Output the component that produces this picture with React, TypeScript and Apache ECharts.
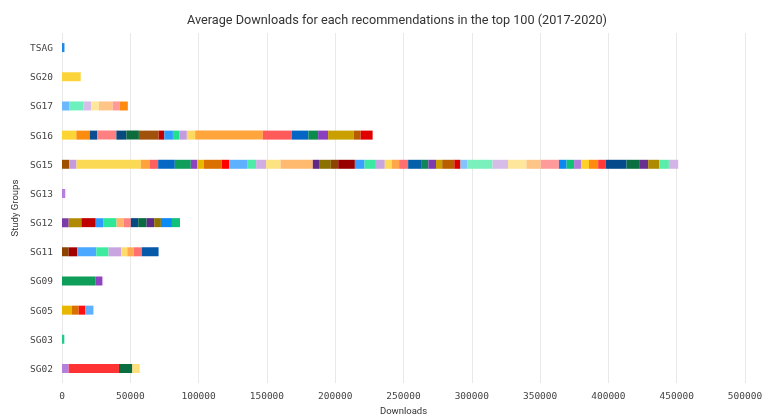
import React, { useEffect, useRef } from "react";
import * as echarts from "echarts";

const categories = ["SG02", "SG03", "SG05", "SG09", "SG11", "SG12", "SG13", "SG15", "SG16", "SG17", "SG20", "TSAG"];
const xTicks = { min: 0, max: 500000, interval: 50000 };

const sg02 = [4900, 36800, 9800, 5400];
const sg03 = [1700];
const sg05 = [7300, 4900, 4900, 5900];
const sg09 = [24400, 4900, 800];
const sg11 = [4900, 6300, 13900, 9000, 9300, 4400, 4600, 6100, 12200];
const sg12 = [4900, 9300, 10500, 5400, 9800, 5400, 5100, 5400, 6100, 5600, 4900, 8100, 5900];
const sg13 = [2400];
const sg15 = [
  5300, 5300, 47100, 6400, 6300, 12200, 11700, 4800, 4800, 13000,
  5600, 13000, 6600, 7300, 10600, 23600, 4600, 8600, 5400, 12200,
  7100, 8300, 6500, 5000, 5500, 6600, 10000, 4800, 5600, 4500,
  8900, 4500, 5300, 18200, 11300, 13500, 10500, 13300, 5600, 5500,
  5300, 5600, 6700, 5600, 15200, 9200, 6600, 8100, 7100, 6800,
];
const sg16 = [10500, 9800, 5600, 13900, 7300, 9200, 14400, 4200, 6300, 4900, 5300, 6100, 49500, 21200, 12200, 7100, 7300, 18700, 5100, 8800];
const sg17 = [5600, 10200, 5600, 5600, 10200, 4900, 6100];
const sg20 = [13700];
const tsag = [1800];

const sg02Colors = ["#b57fdc", "#ff3333", "#0a6e40", "#fde07a"];
const sg03Colors = ["#22c98a"];
const sg05Colors = ["#e8b800", "#d97000", "#ff1010", "#5fb0ff"];
const sg09Colors = ["#0e9e5a", "#8e44c0", "#d4b4e6"];
const sg11Colors = ["#8c4400", "#a00000", "#4aa8ff", "#3deb9f", "#c9a5e0", "#fddc6b", "#ffaa50", "#ff7070", "#0559a8"];
const sg12Colors = ["#7b3ba8", "#b08a00", "#c00000", "#2e9bff", "#2ee89a", "#ffb36b", "#ff8080", "#064a85", "#0a6b40", "#5e2a85", "#8f7300", "#0a8af5", "#11c07a"];
const sg13Colors = ["#b57fdc"];
const sg15Colors = [
  "#9e5200", "#c49bdf", "#fcd955", "#ffa23c", "#ff5e5e", "#0568c4", "#0e9e5a", "#8e44c0", "#e8b800", "#d97000",
  "#ff0000", "#5fb0ff", "#4deba7", "#ceaee3", "#fde282", "#ffba70", "#5e2a85", "#8c7000", "#8c4400", "#990000",
  "#3aa0ff", "#3de8a0", "#c9a5e0", "#fcda5a", "#ffa54a", "#ff7070", "#0560aa", "#11845a", "#7d3bb0", "#c9a000",
  "#b86000", "#d80000", "#85c3ff", "#7af0bd", "#d6bde8", "#fee69a", "#ffc586", "#ff9a9a", "#0a88f0", "#10c075",
  "#b07ed8", "#fdd12a", "#ff8a10", "#ff3838", "#054a8a", "#0a6e40", "#6a3090", "#ad8a00", "#5aedaa", "#d4b4e6",
];
const sg16Colors = ["#fcd433", "#fb8c10", "#0d4e91", "#ff8080", "#084a7e", "#0e6b3c", "#a0520a", "#c00000", "#2e9bff", "#22e08e", "#c39be0", "#fdd863", "#ffa53b", "#ff5a5a", "#0565c4", "#0c8c4a", "#8a3fbf", "#c9a000", "#b85c00", "#e00000"];
const sg17Colors = ["#6bb8ff", "#6df0be", "#d6bde8", "#fee69a", "#ffc586", "#ff9a9a", "#ff8a10"];
const sg20Colors = ["#fbd33a"];
const tsagColors = ["#1e88e5"];

const segValues = [sg02, sg03, sg05, sg09, sg11, sg12, sg13, sg15, sg16, sg17, sg20, tsag];
const segColors = [sg02Colors, sg03Colors, sg05Colors, sg09Colors, sg11Colors, sg12Colors, sg13Colors, sg15Colors, sg16Colors, sg17Colors, sg20Colors, tsagColors];

export default function App() {
  const ref = useRef<HTMLDivElement>(null);
  useEffect(() => {
    if (!ref.current) return;
    const chart = echarts.init(ref.current, undefined, { renderer: "svg" });
    const maxSegs = Math.max(...segValues.map((s) => s.length));
    const series: any[] = [];
    for (let k = 0; k < maxSegs; k++) {
      series.push({
        type: "bar",
        stack: "total",
        barWidth: 9,
        data: segValues.map((vals, ci) =>
          k < vals.length ? { value: vals[k], itemStyle: { color: segColors[ci][k] } } : "-"
        ),
      });
    }
    chart.setOption({
      animation: false,
      title: {
        text: "Average Downloads for each recommendations in the top 100 (2017-2020)",
        left: 182,
        top: 8,
        textStyle: { fontFamily: "Roboto", fontSize: 12.7, fontWeight: "normal", color: "#333" },
      },
      grid: { left: 62, right: 23, top: 33, bottom: 30, containLabel: false },
      xAxis: {
        type: "value",
        min: xTicks.min,
        max: xTicks.max,
        interval: xTicks.interval,
        name: "Downloads",
        nameLocation: "middle",
        nameGap: 19,
        nameTextStyle: { fontFamily: "Roboto", fontSize: 9.5, color: "#333" },
        axisLine: { show: false },
        axisTick: { show: false },
        axisLabel: { fontFamily: "DejaVu Sans Mono", fontSize: 9.5, color: "#444", margin: 7, formatter: (v: number) => String(v) },
        splitLine: { show: true, lineStyle: { color: "#e9e9e9", width: 1 } },
      },
      yAxis: {
        type: "category",
        data: categories,
        name: "Study Groups",
        nameLocation: "middle",
        nameGap: 36,
        nameTextStyle: { fontFamily: "Roboto", fontSize: 9.5, color: "#333" },
        axisLine: { show: false },
        axisTick: { show: false },
        axisLabel: { fontFamily: "DejaVu Sans Mono", fontSize: 9.5, color: "#444", margin: 9 },
        splitLine: { show: false },
      },
      series,
    });
    return () => chart.dispose();
  }, []);
  return <div ref={ref} style={{ position: "fixed", left: 0, top: 0, width: 768, height: 420 }} />;
}
